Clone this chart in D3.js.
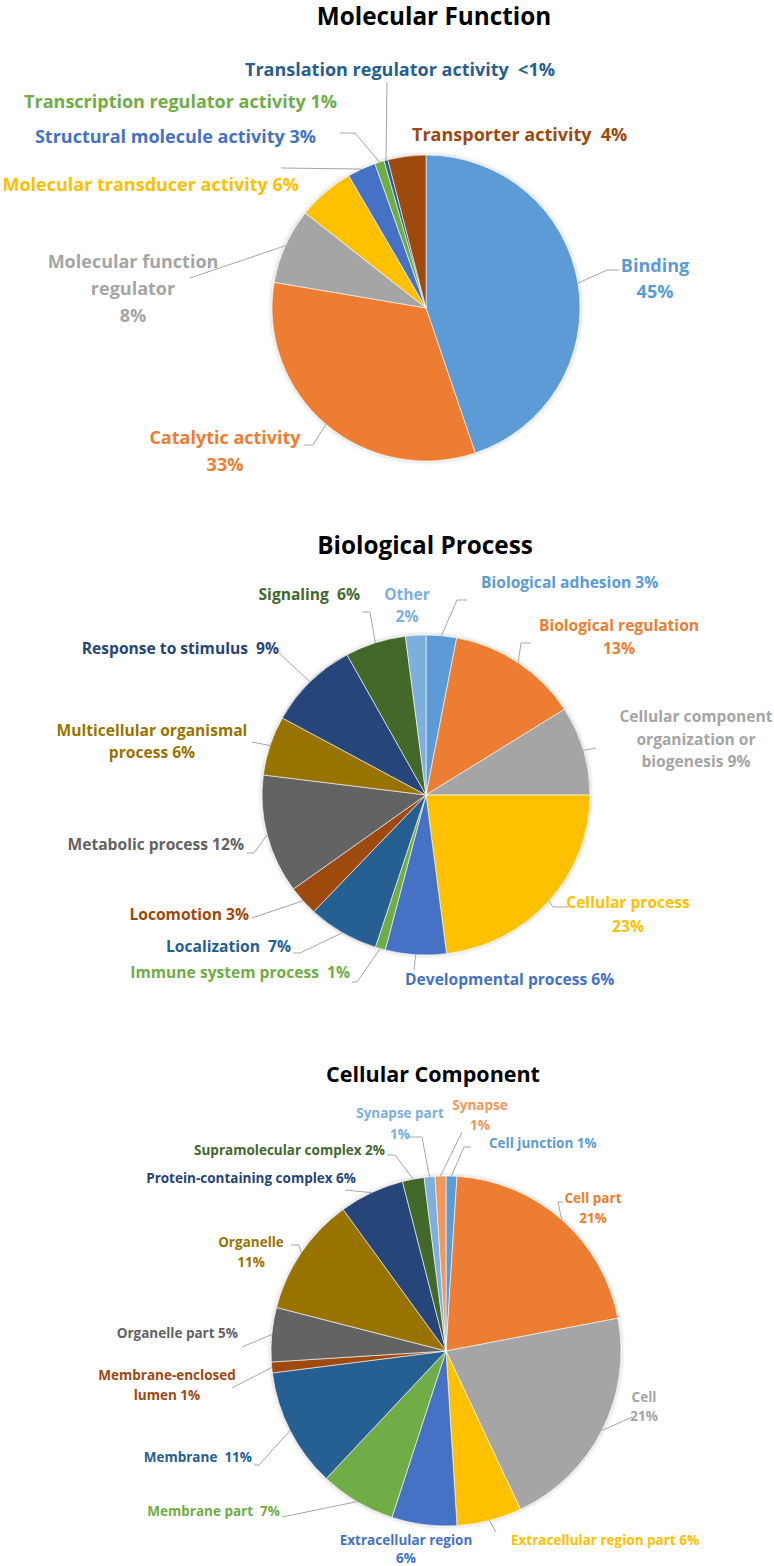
<!DOCTYPE html>
<html><head><meta charset="utf-8">
<script src="https://cdn.jsdelivr.net/npm/d3@7"></script>
<style>body{margin:0;background:#fff} svg{display:block}</style>
</head><body>
<script>
// ---------- DATA ----------
const mfTitle = "Molecular Function";
const mfCategories = ["Binding","Catalytic activity","Molecular function regulator","Molecular transducer activity","Structural molecule activity","Transcription regulator activity","Translation regulator activity","Transporter activity"];
const mfValues = [45, 33, 8, 6, 3, 1, 0.4, 4];
const mfLabels = [["Binding","45%"],["Catalytic activity","33%"],["Molecular function","regulator","8%"],["Molecular transducer activity 6%"],["Structural molecule activity 3%"],["Transcription regulator activity 1%"],["Translation regulator activity  <1%"],["Transporter activity  4%"]];

const bpTitle = "Biological Process";
const bpCategories = ["Biological adhesion","Biological regulation","Cellular component organization or biogenesis","Cellular process","Developmental process","Immune system process","Localization","Locomotion","Metabolic process","Multicellular organismal process","Response to stimulus","Signaling","Other"];
const bpValues = [3, 13, 9, 23, 6, 1, 7, 3, 12, 6, 9, 6, 2];
const bpLabels = [["Biological adhesion 3%"],["Biological regulation","13%"],["Cellular component","organization or","biogenesis 9%"],["Cellular process","23%"],["Developmental process 6%"],["Immune system process  1%"],["Localization  7%"],["Locomotion 3%"],["Metabolic process 12%"],["Multicellular organismal","process 6%"],["Response to stimulus  9%"],["Signaling  6%"],["Other","2%"]];

const ccTitle = "Cellular Component";
const ccCategories = ["Cell junction","Cell part","Cell","Extracellular region part","Extracellular region","Membrane part","Membrane","Membrane-enclosed lumen","Organelle part","Organelle","Protein-containing complex","Supramolecular complex","Synapse part","Synapse"];
const ccValues = [1, 21, 21, 6, 6, 7, 11, 1, 5, 11, 6, 2, 1, 1];
const ccLabels = [["Cell junction 1%"],["Cell part","21%"],["Cell","21%"],["Extracellular region part 6%"],["Extracellular region","6%"],["Membrane part  7%"],["Membrane  11%"],["Membrane-enclosed","lumen 1%"],["Organelle part 5%"],["Organelle","11%"],["Protein-containing complex 6%"],["Supramolecular complex 2%"],["Synapse part","1%"],["Synapse","1%"]];

// ---------- STYLE / LAYOUT ----------
const palette = ["#5B9BD5","#ED7D31","#A5A5A5","#FFC000","#4472C4","#70AD47","#255E91","#9E480E","#636363","#997300","#264478","#43682B","#7CAFDD","#F1975A"];
const FONT = "'Open Sans', 'DejaVu Sans', sans-serif";

const layouts = [
  { title: mfTitle, cats: mfCategories, vals: mfValues, labels: mfLabels,
    tx: 434, ty: 25, tsize: 24.3, lsize: 18, cx: 426, cy: 308, rx: 154, ry: 153,
    pos: [
      {x:655,y:272,a:"middle",lh:26,leader:[[619,270],[607,270]]},
      {x:225,y:444,a:"middle",lh:27,leader:[[304,445],[313,445]]},
      {x:133,y:268,a:"middle",lh:27,leader:[[190,278]]},
      {x:299,y:191,a:"end",lh:20,leader:null},
      {x:316,y:143,a:"end",lh:20,leader:[[281,168]]},
      {x:337,y:108,a:"end",lh:20,leader:[[340,133],[355,133]]},
      {x:245,y:76,a:"start",lh:20,leader:[[387,82]]},
      {x:412,y:141,a:"start",lh:20,leader:null}
    ]},
  { title: bpTitle, cats: bpCategories, vals: bpValues, labels: bpLabels,
    tx: 425, ty: 554, tsize: 24.3, lsize: 15.6, cx: 426, cy: 795, rx: 164, ry: 160,
    pos: [
      {x:481,y:588,a:"start",lh:22,leader:[[467,600],[457,600]]},
      {x:619,y:631,a:"middle",lh:23,leader:[[531,643],[521,643]]},
      {x:696,y:722,a:"middle",lh:22.5,leader:[[596,748]]},
      {x:628,y:908,a:"middle",lh:24,leader:[[568,907],[553,907]]},
      {x:405,y:985,a:"start",lh:22,leader:[[414,970]]},
      {x:350,y:978,a:"end",lh:22,leader:[[352,982],[357,982]]},
      {x:291,y:952,a:"end",lh:22,leader:[[293,953],[300,953]]},
      {x:249,y:920,a:"end",lh:22,leader:[[252,918]]},
      {x:244,y:850,a:"end",lh:22,leader:[[247,853],[254,853]]},
      {x:152,y:736,a:"middle",lh:22,leader:[[252,742]]},
      {x:279,y:654,a:"end",lh:22,leader:[[279,653]]},
      {x:360,y:600,a:"end",lh:22,leader:[[362,612],[370,612]]},
      {x:407,y:600,a:"middle",lh:22,leader:null}
    ]},
  { title: ccTitle, cats: ccCategories, vals: ccValues, labels: ccLabels,
    tx: 433, ty: 1082, tsize: 21.5, lsize: 13.5, cx: 446, cy: 1351, rx: 175, ry: 175,
    pos: [
      {x:489,y:1148,a:"start",lh:20,leader:[[471,1147],[464,1147]]},
      {x:593,y:1203,a:"middle",lh:20,leader:[[563,1202],[558,1202]]},
      {x:644,y:1402,a:"middle",lh:19,leader:[[632,1417],[619,1423]]},
      {x:511,y:1545,a:"start",lh:20,leader:[[496,1532]]},
      {x:406,y:1545,a:"middle",lh:18,leader:null},
      {x:280,y:1516,a:"end",lh:20,leader:[[282,1517]]},
      {x:252,y:1462,a:"end",lh:20,leader:[[254,1465],[259,1465]]},
      {x:167,y:1380,a:"middle",lh:20,leader:[[232,1388]]},
      {x:238,y:1338,a:"end",lh:20,leader:[[242,1347]]},
      {x:251,y:1247,a:"middle",lh:20,leader:[[291,1245],[299,1245]]},
      {x:356,y:1183,a:"end",lh:20,leader:[[345,1190]]},
      {x:385,y:1155,a:"end",lh:20,leader:[[387,1155],[395,1155]]},
      {x:400,y:1118,a:"middle",lh:21,leader:[[405,1137],[422,1137]]},
      {x:480,y:1110,a:"middle",lh:20,leader:[[462,1132]]}
    ]}
];

// ---------- DRAW ----------
const W = 774, H = 1566;
const svg = d3.select("body").append("svg").attr("width", W).attr("height", H)
  .attr("viewBox", `0 0 ${W} ${H}`);

const defs = svg.append("defs");
const f = defs.append("filter").attr("id","soft").attr("x","-10%").attr("y","-10%").attr("width","120%").attr("height","120%");
f.append("feDropShadow").attr("dx",0).attr("dy",0).attr("stdDeviation",2.2)
  .attr("flood-color","#000").attr("flood-opacity",0.25);

const color = d3.scaleOrdinal().range(palette);

layouts.forEach(L => {
  color.domain(L.cats);
  const pie = d3.pie().sort(null).value(d => d.v);
  const data = pie(L.cats.map((c, i) => ({c, v: L.vals[i], i})));
  const arc = d3.arc().innerRadius(0).outerRadius(L.rx);
  const sy = L.ry / L.rx;

  // title
  svg.append("text").attr("x", L.tx).attr("y", L.ty)
    .attr("text-anchor","middle").attr("font-family", FONT)
    .attr("font-weight", 700).attr("font-size", L.tsize).attr("fill", "#000")
    .text(L.title);

  // slices
  const g = svg.append("g")
    .attr("transform", `translate(${L.cx},${L.cy}) scale(1,${sy})`)
    .attr("filter","url(#soft)");
  g.selectAll("path").data(data).join("path")
    .attr("d", arc)
    .attr("fill", d => color(d.data.c))
    .attr("stroke", "#fff").attr("stroke-width", 0.6)
    .attr("vector-effect","non-scaling-stroke");

  // leader lines
  const edge = d => {
    const a = (d.startAngle + d.endAngle) / 2;
    return [L.cx + L.rx * Math.sin(a), L.cy - L.ry * Math.cos(a)];
  };
  const line = d3.line();
  data.forEach((d, i) => {
    const p = L.pos[i];
    if (p.leader) {
      const pts = p.leader.concat([edge(d)]);
      svg.append("path").attr("d", line(pts))
        .attr("fill","none").attr("stroke","#A6A6A6").attr("stroke-width",1);
    }
  });

  // labels
  data.forEach((d, i) => {
    const p = L.pos[i];
    const t = svg.append("text")
      .attr("x", p.x).attr("y", p.y)
      .attr("text-anchor", p.a)
      .attr("font-family", FONT).attr("font-weight", 700)
      .attr("font-size", L.lsize)
      .attr("fill", color(d.data.c));
    L.labels[i].forEach((s, k) => {
      t.append("tspan").attr("x", p.x).attr("y", p.y + k * p.lh)
        .attr("xml:space","preserve").style("white-space","pre").text(s);
    });
  });
});
</script>
</body></html>
